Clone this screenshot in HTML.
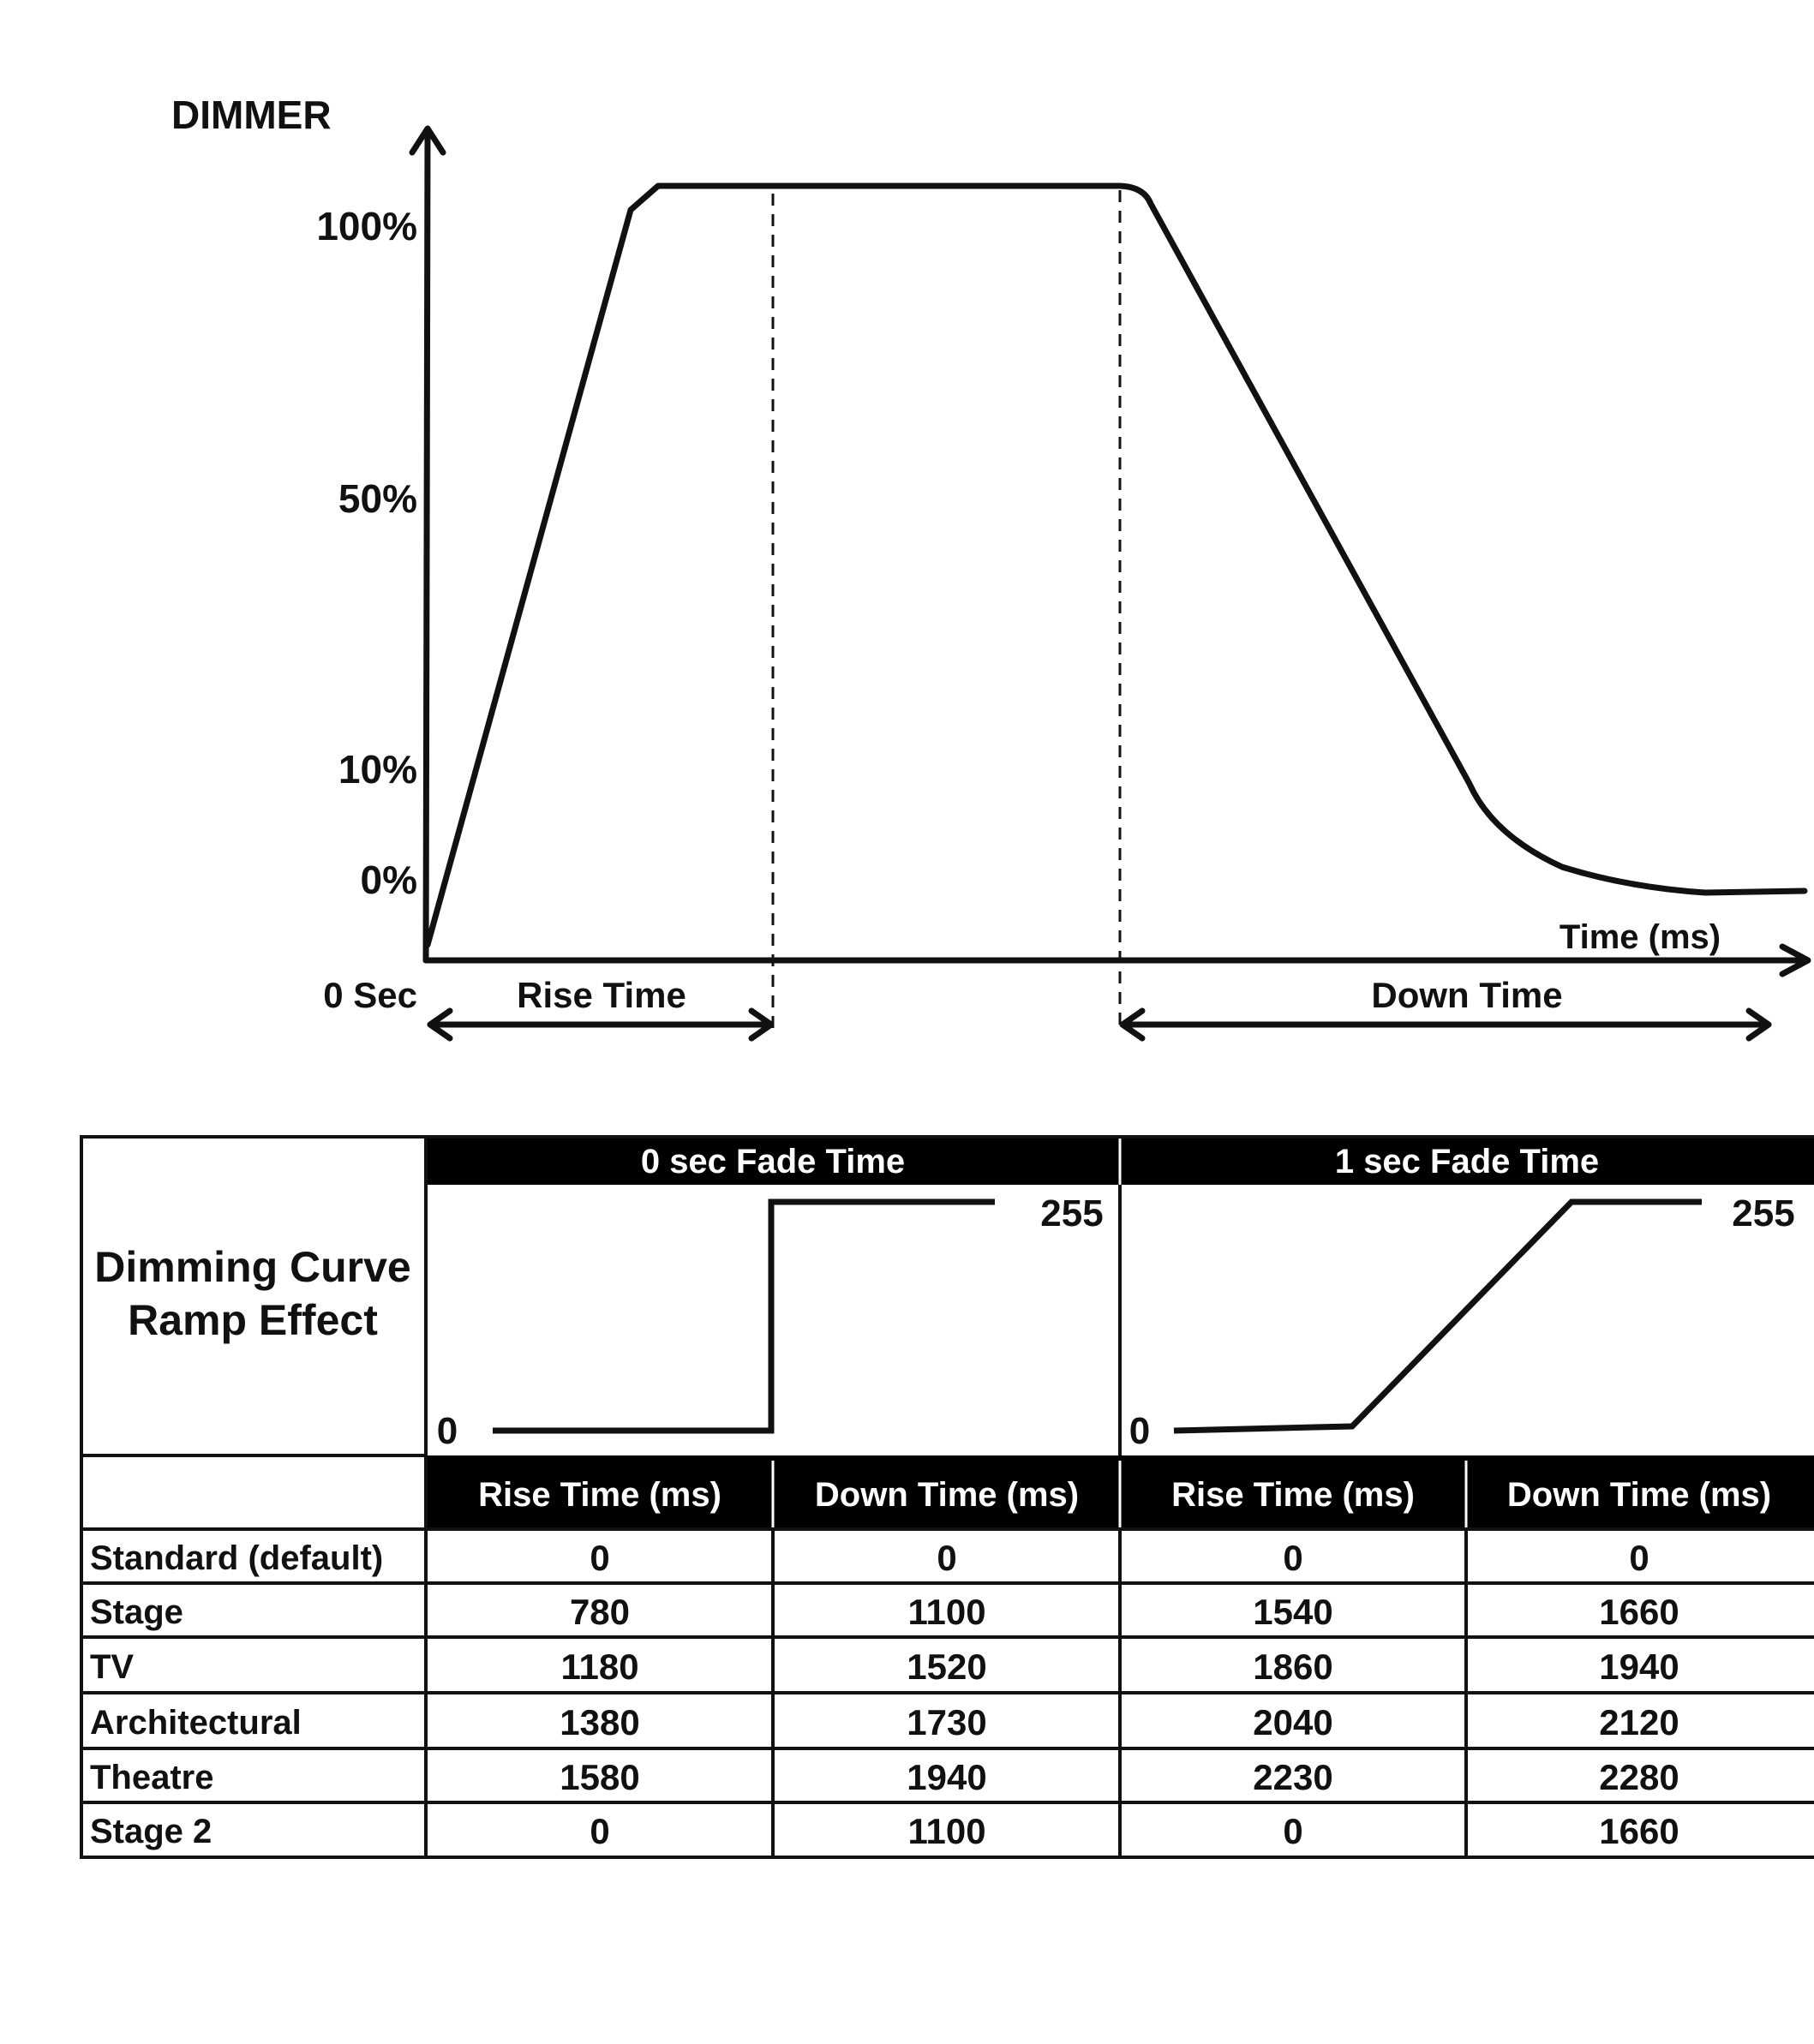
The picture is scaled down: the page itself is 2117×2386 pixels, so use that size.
<!DOCTYPE html>
<html><head><meta charset="utf-8"><style>
html,body{margin:0;padding:0;background:#fff;}
svg{display:block;}
text{font-family:"Liberation Sans",sans-serif;font-weight:bold;}
</style></head><body>
<svg width="2117" height="2386" viewBox="0 0 2117 2386" xmlns="http://www.w3.org/2000/svg">
<g fill="#111" stroke="none">
<text x="200" y="150" font-size="46">DIMMER</text>
<text x="487" y="280" font-size="46" text-anchor="end">100%</text>
<text x="487" y="598" font-size="46" text-anchor="end">50%</text>
<text x="487" y="914" font-size="46" text-anchor="end">10%</text>
<text x="487" y="1043" font-size="46" text-anchor="end">0%</text>
<text x="487" y="1176" font-size="42" text-anchor="end">0 Sec</text>
<text x="702" y="1176" font-size="42" text-anchor="middle">Rise Time</text>
<text x="1712" y="1176" font-size="42" text-anchor="middle">Down Time</text>
<text x="1914" y="1107" font-size="40" text-anchor="middle">Time (ms)</text>
</g>
<g fill="none" stroke="#111" stroke-width="7" stroke-linecap="round" stroke-linejoin="round">
<line x1="497" y1="1121" x2="499" y2="152"/>
<polyline points="481,178 499,150 517,178"/>
<line x1="497" y1="1121" x2="2108" y2="1121"/>
<polyline points="2080,1105 2110,1121 2080,1137"/>
<path d="M499,1103 L736,245 L768,217 L1307,217 Q1335,218 1343,238 L1715,915 Q1742,975 1823,1012 Q1900,1036 1990,1042 L2106,1040"/>
<line x1="502" y1="1196" x2="900" y2="1196"/>
<polyline points="525,1180 502,1196 525,1212"/>
<polyline points="877,1180 900,1196 877,1212"/>
<line x1="1310" y1="1196" x2="2064" y2="1196"/>
<polyline points="1333,1180 1310,1196 1333,1212"/>
<polyline points="2041,1180 2064,1196 2041,1212"/>
</g>
<g stroke="#111" stroke-width="3" stroke-dasharray="14,10">
<line x1="902" y1="226" x2="902" y2="1200"/>
<line x1="1307" y1="222" x2="1307" y2="1200"/>
</g>
<rect x="497" y="1326" width="1620" height="57" fill="#000"/>
<rect x="497" y="1699" width="1620" height="86" fill="#000"/>
<g stroke="#fff" stroke-width="3">
<line x1="1307" y1="1326" x2="1307" y2="1383"/>
<line x1="902" y1="1705" x2="902" y2="1785"/>
<line x1="1307" y1="1705" x2="1307" y2="1785"/>
<line x1="1711" y1="1705" x2="1711" y2="1785"/>
</g>
<g stroke="#111" stroke-width="4" fill="none">
<rect x="95" y="1327" width="2030" height="841"/>
<line x1="497" y1="1326" x2="497" y2="2168"/>
<line x1="1307" y1="1383" x2="1307" y2="1699"/>
<line x1="902" y1="1785" x2="902" y2="2168"/>
<line x1="1307" y1="1785" x2="1307" y2="2168"/>
<line x1="1711" y1="1785" x2="1711" y2="2168"/>
<line x1="95" y1="1699" x2="497" y2="1699"/>
<line x1="95" y1="1785" x2="2117" y2="1785"/>
<line x1="95" y1="1848" x2="2117" y2="1848"/>
<line x1="95" y1="1911" x2="2117" y2="1911"/>
<line x1="95" y1="1976" x2="2117" y2="1976"/>
<line x1="95" y1="2041" x2="2117" y2="2041"/>
<line x1="95" y1="2104" x2="2117" y2="2104"/>
</g>
<g fill="none" stroke="#111" stroke-width="7">
<polyline points="575,1670 900,1670 900,1403 1161,1403"/>
<polyline points="1370,1670 1578,1665 1834,1403 1986,1403"/>
</g>
<g fill="#fff" font-size="40" text-anchor="middle">
<text x="902" y="1369">0 sec Fade Time</text>
<text x="1712" y="1369">1 sec Fade Time</text>
<text x="700" y="1758">Rise Time (ms)</text>
<text x="1105" y="1758">Down Time (ms)</text>
<text x="1509" y="1758">Rise Time (ms)</text>
<text x="1913" y="1758">Down Time (ms)</text>
</g>
<g fill="#111" font-size="44">
<text x="1251" y="1431" text-anchor="middle">255</text>
<text x="2058" y="1431" text-anchor="middle">255</text>
<text x="522" y="1685" text-anchor="middle">0</text>
<text x="1330" y="1685" text-anchor="middle">0</text>
<text x="295" y="1496" text-anchor="middle" font-size="50">Dimming Curve</text>
<text x="295" y="1558" text-anchor="middle" font-size="50">Ramp Effect</text>
</g>
<g fill="#111" font-size="40">
<text x="105" y="1832">Standard (default)</text>
<text x="105" y="1895">Stage</text>
<text x="105" y="1959">TV</text>
<text x="105" y="2024">Architectural</text>
<text x="105" y="2088">Theatre</text>
<text x="105" y="2151">Stage 2</text>
</g>
<g fill="#111" font-size="42" text-anchor="middle">
<text x="700" y="1833">0</text><text x="1105" y="1833">0</text><text x="1509" y="1833">0</text><text x="1913" y="1833">0</text>
<text x="700" y="1896">780</text><text x="1105" y="1896">1100</text><text x="1509" y="1896">1540</text><text x="1913" y="1896">1660</text>
<text x="700" y="1960">1180</text><text x="1105" y="1960">1520</text><text x="1509" y="1960">1860</text><text x="1913" y="1960">1940</text>
<text x="700" y="2025">1380</text><text x="1105" y="2025">1730</text><text x="1509" y="2025">2040</text><text x="1913" y="2025">2120</text>
<text x="700" y="2089">1580</text><text x="1105" y="2089">1940</text><text x="1509" y="2089">2230</text><text x="1913" y="2089">2280</text>
<text x="700" y="2152">0</text><text x="1105" y="2152">1100</text><text x="1509" y="2152">0</text><text x="1913" y="2152">1660</text>
</g>
</svg>
</body></html>
